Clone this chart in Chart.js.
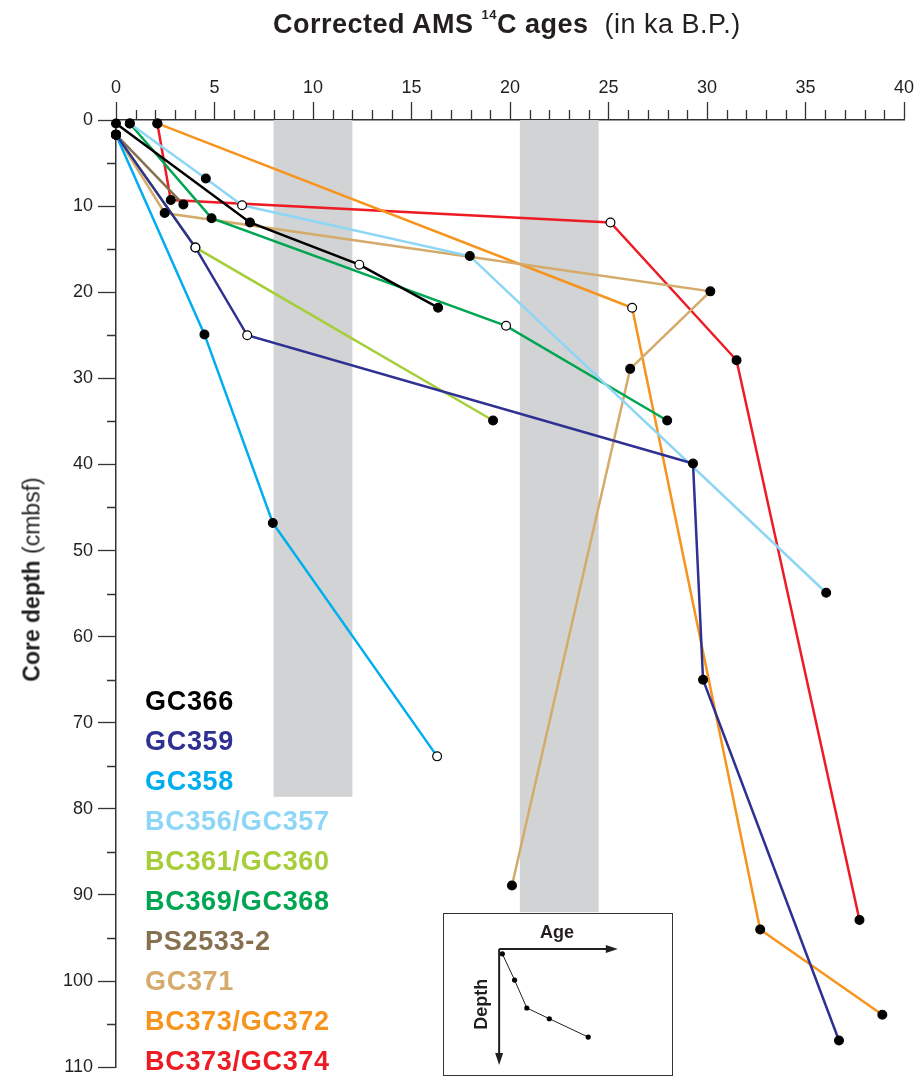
<!DOCTYPE html>
<html>
<head>
<meta charset="utf-8">
<script src="https://cdn.jsdelivr.net/npm/chart.js@4"></script>
<style>
  body { margin: 0; background: #fff; font-family: "Liberation Sans", Arial, sans-serif; }
  #wrap { position: relative; width: 920px; height: 1083px; }
  #main { position: absolute; left: 0; top: 0; }
  .title { position: absolute; left: 273px; top: 9px; font-size: 27px; color: #231f20; white-space: nowrap; letter-spacing: 0.5px; }
  .title b sup { font-size: 13px; position: relative; top: -4px; }
  .ytitle { position: absolute; left: -118px; top: 566px; width: 300px; text-align: center; font-size: 23px; color: #231f20;
            transform: rotate(-90deg); white-space: nowrap; }
  #legend { position: absolute; left: 145px; top: 681px; }
  #legend div { font-weight: bold; font-size: 27px; line-height: 40px; letter-spacing: 0.7px; }
  #inset { position: absolute; left: 443px; top: 913px; width: 228px; height: 161px; border: 1.5px solid #333; background: #fff; }
</style>
</head>
<body>
<div id="wrap">
  <canvas id="main" width="920" height="1083"></canvas>
  <div class="title"><b>Corrected AMS <sup>14</sup>C ages</b>&nbsp; (in ka B.P.)</div>
  <div class="ytitle"><b>Core depth</b> (cmbsf)</div>
  <div id="legend"></div>
  <div id="inset"><canvas id="insetChart" width="228" height="161"></canvas></div>
</div>
<script>
// 코어별 연대(ka) / 깊이(cmbsf) 데이터, open = 흰 원 표시 여부
const seriesNames = ['GC366', 'GC359', 'GC358', 'BC356/GC357', 'BC361/GC360', 'BC369/GC368', 'PS2533-2', 'GC371', 'BC373/GC372', 'BC373/GC374'];
const seriesColors = ['#000000', '#2e3192', '#00aeef', '#8ed6f6', '#a6ce39', '#00a651', '#85704f', '#d4ab6a', '#f7941d', '#ed1c24'];

const gc366Age = [0, 6.8, 12.35, 16.35];
const gc366Depth = [0.4, 11.9, 16.8, 21.8];
const gc366Open = [false, false, true, false];

const gc359Age = [0, 4.03, 6.66, 29.29, 29.8, 36.7];
const gc359Depth = [1.7, 14.8, 25.0, 39.9, 65.0, 106.9];
const gc359Open = [false, true, true, false, false, false];

const gc358Age = [0, 4.49, 7.96, 16.3];
const gc358Depth = [1.7, 24.9, 46.8, 73.9];
const gc358Open = [false, false, false, true];

const bc356Age = [0.7, 4.56, 6.4, 17.96, 36.05];
const bc356Depth = [0.4, 6.8, 9.9, 15.8, 54.9];
const bc356Open = [false, false, true, false, false];

const bc361Age = [0, 4.03, 19.14];
const bc361Depth = [1.7, 14.8, 34.9];
const bc361Open = [false, true, false];

const bc369Age = [0.7, 4.85, 19.8, 27.98];
const bc369Depth = [0.4, 11.4, 23.9, 34.9];
const bc369Open = [false, false, true, false];

const ps2533Age = [0, 3.42];
const ps2533Depth = [1.7, 9.8];
const ps2533Open = [false, false];

const gc371Age = [0, 2.47, 30.17, 26.1, 20.1];
const gc371Depth = [1.7, 10.8, 19.9, 28.9, 88.9];
const gc371Open = [false, false, false, false, false];

const gc372Age = [2.1, 26.2, 32.7, 38.9];
const gc372Depth = [0.4, 21.8, 94.0, 103.9];
const gc372Open = [false, true, false, false];

const gc374Age = [2.1, 2.78, 25.1, 31.5, 37.74];
const gc374Depth = [0.4, 9.3, 11.9, 27.9, 92.9];
const gc374Open = [false, false, true, false, false];

// 회색 음영 구간 (연대 범위, 아래 끝 깊이)
const bandFrom = [8, 20.5];
const bandTo = [12, 24.5];
const bandBottom = [78.6, 92];

// 눈금
const xTickMax = 40;
const yTickMax = 110;

// 삽입 그림 (모식도) 데이터
const insetAge = [0.33, 1.6, 2.87, 5.2, 9.23];
const insetDepth = [0.5, 3.26, 6.2, 7.33, 9.26];

const ages = [gc366Age, gc359Age, gc358Age, bc356Age, bc361Age, bc369Age, ps2533Age, gc371Age, gc372Age, gc374Age];
const depths = [gc366Depth, gc359Depth, gc358Depth, bc356Depth, bc361Depth, bc369Depth, ps2533Depth, gc371Depth, gc372Depth, gc374Depth];
const opens = [gc366Open, gc359Open, gc358Open, bc356Open, bc361Open, bc369Open, ps2533Open, gc371Open, gc372Open, gc374Open];

const datasets = [];
seriesNames.forEach((name, i) => {
    const pts = ages[i].map((a, k) => ({ x: a, y: depths[i][k] }));
    // 선 먼저
    datasets.push({
        label: name,
        data: pts,
        showLine: true,
        borderColor: seriesColors[i],
        borderWidth: 2.5,
        pointRadius: 0,
        clip: false,
        order: 2
    });
    // 점은 모든 선 위에
    datasets.push({
        label: name + ' pts',
        data: pts,
        showLine: false,
        pointRadius: 4.4,
        pointBorderWidth: 1.2,
        pointBorderColor: '#000',
        pointBackgroundColor: opens[i].map(o => o ? '#fff' : '#000'),
        clip: false,
        order: 1
    });
});

// legend 텍스트
const legendBox = document.getElementById('legend');
seriesNames.forEach((name, i) => {
    const d = document.createElement('div');
    d.textContent = name;
    d.style.color = seriesColors[i];
    legendBox.appendChild(d);
});

const bandsPlugin = {
    id: 'bands',
    beforeDatasetsDraw(chart) {
        const { ctx, scales: { x, y } } = chart;
        ctx.save();
        ctx.fillStyle = '#d1d3d4';
        bandFrom.forEach((b, i) => {
            const x0 = x.getPixelForValue(b);
            const x1 = x.getPixelForValue(bandTo[i]);
            const y0 = y.getPixelForValue(0);
            const y1 = y.getPixelForValue(bandBottom[i]);
            ctx.fillRect(x0, y0, x1 - x0, y1 - y0);
        });
        ctx.restore();
    }
};

// 짧은 보조 눈금
const minorTicks = {
    id: 'minorTicks',
    afterDraw(chart) {
        const { ctx, chartArea, scales: { x, y } } = chart;
        ctx.save();
        ctx.strokeStyle = '#333';
        ctx.lineWidth = 1.3;
        ctx.beginPath();
        for (let v = 0; v <= xTickMax; v++) {
            if (v % 5 === 0) continue;
            const px = Math.round(x.getPixelForValue(v)) + 0.5;
            ctx.moveTo(px, chartArea.top);
            ctx.lineTo(px, chartArea.top - 10);
        }
        for (let v = 5; v <= yTickMax; v += 10) {
            const py = Math.round(y.getPixelForValue(v)) + 0.5;
            ctx.moveTo(chartArea.left, py);
            ctx.lineTo(chartArea.left - 9, py);
        }
        ctx.stroke();
        ctx.restore();
    }
};

const tickFont = { family: '"Liberation Sans", Arial, sans-serif', size: 18 };

new Chart(document.getElementById('main'), {
    type: 'scatter',
    data: { datasets: datasets },
    options: {
        responsive: false,
        animation: false,
        layout: { padding: { left: 0, top: 0, right: 16, bottom: 11 } },
        plugins: { legend: { display: false }, tooltip: { enabled: false } },
        scales: {
            x: {
                position: 'top',
                min: 0,
                max: xTickMax,
                afterFit: s => { s.height = 120; },
                border: { color: '#333', width: 1.5 },
                grid: {
                    drawOnChartArea: false,
                    tickLength: 18,
                    tickWidth: 1.3,
                    tickColor: c => (c.tick && c.tick.value % 5 === 0) ? '#333' : 'rgba(0,0,0,0)'
                },
                ticks: {
                    stepSize: 1,
                    autoSkip: false,
                    maxRotation: 0,
                    padding: 3,
                    color: '#231f20',
                    font: tickFont,
                    callback: v => v % 5 === 0 ? v : ''
                }
            },
            y: {
                reverse: true,
                min: 0,
                max: yTickMax,
                afterFit: s => { s.width = 116; },
                border: { color: '#333', width: 1.5 },
                grid: {
                    drawOnChartArea: false,
                    tickLength: 18,
                    tickWidth: 1.3,
                    tickColor: c => (c.tick && c.tick.value % 10 === 0) ? '#333' : 'rgba(0,0,0,0)'
                },
                ticks: {
                    stepSize: 5,
                    autoSkip: false,
                    padding: 5,
                    color: '#231f20',
                    font: tickFont,
                    callback: v => v % 10 === 0 ? v : ''
                }
            }
        }
    },
    plugins: [bandsPlugin, minorTicks]
});

// 삽입 모식도: 축 화살표 + 라벨
const insetAxes = {
    id: 'insetAxes',
    afterDraw(chart) {
        const { ctx, scales: { x, y } } = chart;
        const ox = x.getPixelForValue(0), oy = y.getPixelForValue(0);
        const ax = x.getPixelForValue(12.3), dy = y.getPixelForValue(12.2);
        ctx.save();
        ctx.strokeStyle = '#231f20';
        ctx.fillStyle = '#231f20';
        ctx.lineWidth = 2;
        ctx.beginPath();
        ctx.moveTo(ox, oy); ctx.lineTo(ax - 6, oy);
        ctx.moveTo(ox, oy); ctx.lineTo(ox, dy - 6);
        ctx.stroke();
        ctx.beginPath();
        ctx.moveTo(ax, oy); ctx.lineTo(ax - 12, oy - 4); ctx.lineTo(ax - 12, oy + 4); ctx.closePath();
        ctx.moveTo(ox, dy); ctx.lineTo(ox - 4, dy - 12); ctx.lineTo(ox + 4, dy - 12); ctx.closePath();
        ctx.fill();
        ctx.font = 'bold 18px "Liberation Sans", Arial, sans-serif';
        ctx.textAlign = 'center';
        ctx.textBaseline = 'middle';
        ctx.fillText('Age', x.getPixelForValue(6.0), y.getPixelForValue(-1.7));
        ctx.translate(ox - 17, y.getPixelForValue(5.8));
        ctx.rotate(-Math.PI / 2);
        ctx.fillText('Depth', 0, 0);
        ctx.restore();
    }
};

new Chart(document.getElementById('insetChart'), {
    type: 'scatter',
    data: {
        datasets: [{
            data: insetAge.map((a, k) => ({ x: a, y: insetDepth[k] })),
            showLine: true,
            borderColor: '#231f20',
            borderWidth: 1,
            pointRadius: 2.6,
            pointBackgroundColor: '#000',
            pointBorderWidth: 0,
            clip: false
        }]
    },
    options: {
        responsive: false,
        animation: false,
        layout: { padding: 0 },
        plugins: { legend: { display: false }, tooltip: { enabled: false } },
        scales: {
            x: { display: false, min: -5.3, max: 17.5 },
            y: { display: false, reverse: true, min: -3.27, max: 12.83 }
        }
    },
    plugins: [insetAxes]
});
</script>
</body>
</html>
